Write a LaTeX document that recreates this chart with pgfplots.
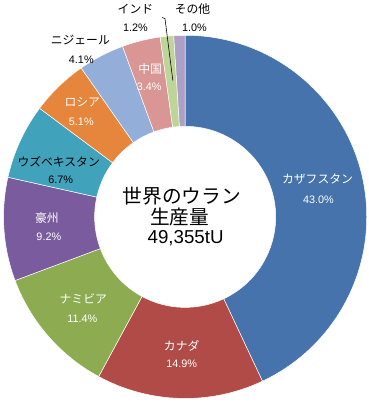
\documentclass[border=0pt]{standalone}
\usepackage{fontspec}
\setmainfont{Liberation Sans}
\newfontfamily\jp{Noto Sans CJK JP}
\usepackage{pgfplots}
\usepackage{pgfplotstable}
\pgfplotsset{compat=1.18}
\definecolor{c0}{HTML}{4673AC}
\definecolor{c1}{HTML}{B14B48}
\definecolor{c2}{HTML}{8DAC52}
\definecolor{c3}{HTML}{7A5C9E}
\definecolor{c4}{HTML}{41A2BC}
\definecolor{c5}{HTML}{E6863C}
\definecolor{c6}{HTML}{93AED8}
\definecolor{c7}{HTML}{D99694}
\definecolor{c8}{HTML}{BED59A}
\definecolor{c9}{HTML}{AE9FC7}
\pgfplotstableread{
value
43.0
14.9
11.4
9.2
6.7
5.1
4.1
3.4
1.2
1.0
}\shares
\newcommand\lab{\jp\fontsize{12}{14}\selectfont}
\newcommand\pct{\fontsize{11}{13}\selectfont}
\begin{document}
\begin{tikzpicture}
\begin{axis}[x=1pt,y=1pt,xmin=-185.5,xmax=186.5,ymin=-187.5,ymax=218.5,hide axis,clip=false]
\path (axis cs:-185.5,-187.5) rectangle (axis cs:186.5,218.5);
\pgfplotstablegetrowsof{\shares}
\pgfmathtruncatemacro\N{\pgfplotsretval-1}
\gdef\cum{0}
\pgfplotsforeachungrouped \i in {0,...,\N}{%
  \pgfplotstablegetelem{\i}{value}\of\shares
  \pgfmathsetmacro\v{\pgfplotsretval}%
  \pgfmathsetmacro\a{90-3.6*\cum}%
  \pgfmathsetmacro\b{90-3.6*(\cum+\v)}%
  \pgfmathsetmacro\xo{184.5*cos(\a)}%
  \pgfmathsetmacro\yo{184.5*sin(\a)}%
  \pgfmathsetmacro\xi{92*cos(\b)}%
  \pgfmathsetmacro\yi{92*sin(\b)}%
  \edef\temp{\noexpand\fill[c\i,draw=white,line width=0.5pt] (axis cs:\xo,\yo) arc[start angle=\a,end angle=\b,radius=184.5pt] -- (axis cs:\xi,\yi) arc[start angle=\b,end angle=\a,radius=92pt] -- cycle;}%
  \temp
  \pgfmathsetmacro\cum{\cum+\v}%
  \global\let\cum\cum
}
% labels
\node[white,font=\lab] at (axis cs:134.5,38.5) {カザフスタン};
\node[white,font=\pct] at (axis cs:135.5,17.5) {43.0\%};
\node[white,font=\lab] at (axis cs:-3.5,-131.5) {カナダ};
\node[white,font=\pct] at (axis cs:-3.5,-149.5) {14.9\%};
\node[white,font=\lab] at (axis cs:-103.5,-83.5) {ナミビア};
\node[white,font=\pct] at (axis cs:-104.5,-103.5) {11.4\%};
\node[white,font=\lab] at (axis cs:-140.5,-1.5) {豪州};
\node[white,font=\pct] at (axis cs:-138.5,-20.5) {9.2\%};
\node[black,font=\lab] at (axis cs:-128.5,56.5) {ウズベキスタン};
\node[black,font=\pct] at (axis cs:-126.5,37.5) {6.7\%};
\node[white,font=\lab] at (axis cs:-104.5,116.5) {ロシア};
\node[white,font=\pct] at (axis cs:-105.5,96.5) {5.1\%};
\node[black,font=\lab] at (axis cs:-106.5,179.5) {ニジェール};
\node[black,font=\pct] at (axis cs:-105.5,159.5) {4.1\%};
\node[white,font=\lab] at (axis cs:-35.5,150.5) {中国};
\node[white,font=\pct] at (axis cs:-36.5,132.5) {3.4\%};
\node[black,font=\lab] at (axis cs:-50.5,211.5) {インド};
\node[black,font=\pct] at (axis cs:-50.5,192.5) {1.2\%};
\node[black,font=\lab] at (axis cs:7.5,211.5) {その他};
\node[black,font=\pct] at (axis cs:9.5,192.5) {1.0\%};
\draw[black,line width=0.6pt] (axis cs:-23.5,202.5) -- (axis cs:-20.5,201.5) -- (axis cs:-12.5,138.5);
% center
\node[black,font=\jp\fontsize{20}{24}\selectfont] at (axis cs:-3.5,21.5) {世界のウラン};
\node[black,font=\jp\fontsize{20}{24}\selectfont] at (axis cs:-5.5,-0.5) {生産量};
\node[black,font=\fontsize{19}{23}\selectfont] at (axis cs:0.5,-21.5) {49,355tU};
\end{axis}
\end{tikzpicture}
\end{document}
